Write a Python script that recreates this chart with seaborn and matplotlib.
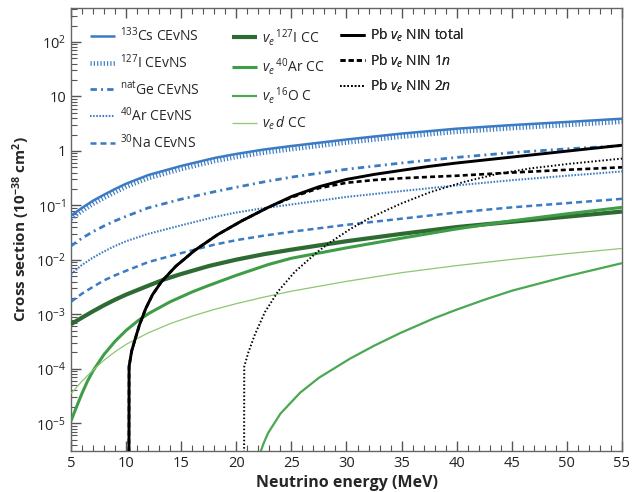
import math
import matplotlib
matplotlib.use("Agg")
import matplotlib.pyplot as plt
from matplotlib import ticker
import seaborn as sns
import pandas as pd

# energies (MeV) and cross sections (1e-38 cm^2)
e_cevns = [5, 6, 7, 8, 9, 10, 12, 15, 18, 20, 22.5, 25, 30, 35, 40, 45, 50, 55]
cs_cevns = [0.065, 0.09, 0.122, 0.157, 0.2, 0.25, 0.36, 0.53, 0.74, 0.88, 1.06, 1.23, 1.62, 2.08, 2.56, 2.98, 3.4, 3.9]
i_cevns = [0.057, 0.079, 0.107, 0.138, 0.176, 0.22, 0.317, 0.466, 0.65, 0.775, 0.93, 1.08, 1.43, 1.83, 2.25, 2.62, 3.0, 3.43]
ge_cevns = [0.018, 0.025, 0.033, 0.042, 0.052, 0.063, 0.09, 0.13, 0.178, 0.215, 0.27, 0.33, 0.46, 0.6, 0.76, 0.93, 1.09, 1.25]
ar_cevns = [0.0055, 0.0081, 0.011, 0.0143, 0.018, 0.022, 0.03, 0.043, 0.061, 0.074, 0.089, 0.104, 0.143, 0.183, 0.233, 0.29, 0.35, 0.42]
na_cevns = [0.0017, 0.0024, 0.0032, 0.0042, 0.0052, 0.0063, 0.0091, 0.0133, 0.019, 0.023, 0.0278, 0.0328, 0.044, 0.057, 0.074, 0.092, 0.11, 0.132]

e_icc = [5, 6, 7, 8, 9, 10, 12, 13.5, 15, 17.5, 20, 22.5, 25, 30, 35, 40, 45, 50, 55]
i_cc = [6.6e-4, 8.7e-4, 1.14e-3, 1.47e-3, 1.86e-3, 2.3e-3, 3.35e-3, 4.4e-3, 5.5e-3, 7.7e-3, 0.0101, 0.0127,
        0.0154, 0.022, 0.03, 0.04, 0.05, 0.062, 0.077]

e_arcc = [5, 5.5, 6, 6.5, 7, 8, 9, 10, 11.1, 12.1, 14, 16, 17.4, 20, 22.9, 25, 30, 35, 40, 45, 50, 55]
ar_cc = [1.1e-5, 2.0e-5, 3.55e-5, 5.96e-5, 9.2e-5, 1.84e-4, 3.2e-4, 5.07e-4, 7.7e-4, 1.05e-3, 1.7e-3, 2.58e-3,
         3.33e-3, 5.2e-3, 8.2e-3, 0.0107, 0.0166, 0.025, 0.037, 0.052, 0.07, 0.092]

e_dcc = [5, 6, 7, 8, 9, 10, 12, 14, 16, 18, 20, 22.5, 25, 30, 35, 40, 45, 50, 55]
d_cc = [3.5e-5, 5.94e-5, 9.5e-5, 1.44e-4, 2.06e-4, 2.81e-4, 4.56e-4, 6.75e-4, 9.3e-4, 1.23e-3, 1.57e-3, 2.07e-3,
        2.66e-3, 4.03e-3, 5.82e-3, 7.85e-3, 0.0102, 0.013, 0.0162]

e_occ = [22.15, 22.5, 22.9, 24, 25.8, 27.5, 30.3, 32.5, 34.9, 38, 40, 42.5, 45, 50, 55]
o_cc = [2.8e-6, 4.4e-6, 6.7e-6, 1.5e-5, 3.66e-5, 6.85e-5, 1.53e-4, 2.65e-4, 4.56e-4, 8.55e-4, 1.22e-3, 1.85e-3,
        2.71e-3, 5.0e-3, 8.7e-3]

e_pb = [10.25, 10.27, 10.5, 10.8, 11.2, 11.8, 12.4, 13.2, 14.5, 16.2, 18.3, 20.5, 22.9, 25, 27.5,
        30, 32.5, 35, 37.5, 40, 45, 50, 55]
pb_total = [1e-7, 1.1e-4, 2.1e-4, 3.4e-4, 6.3e-4, 1.3e-3, 2.3e-3, 3.95e-3, 7.6e-3, 0.0148, 0.029, 0.052, 0.092, 0.145,
            0.22, 0.30, 0.37, 0.44, 0.52, 0.6, 0.77, 0.99, 1.27]
pb_1n = [1e-7, 1.1e-4, 2.1e-4, 3.4e-4, 6.3e-4, 1.3e-3, 2.3e-3, 3.95e-3, 7.6e-3, 0.0148, 0.029, 0.052, 0.092, 0.14,
         0.207, 0.26, 0.292, 0.315, 0.333, 0.35, 0.40, 0.45, 0.50]

e_2n = [20.7, 20.72, 21.1, 21.7, 22.6, 23.8, 25.3, 27.3, 28.5, 30.3, 32.1, 34.9, 37.6, 40.6, 43.7, 46.7, 50.3, 55]
pb_2n = [1e-7, 1.1e-4, 2.02e-4, 4.33e-4, 1.1e-3, 2.66e-3, 6.0e-3, 0.0137, 0.0208, 0.0364, 0.0586, 0.107, 0.175,
         0.268, 0.378, 0.478, 0.582, 0.723]

y_ticks = [1e-5, 1e-4, 1e-3, 1e-2, 1e-1, 1, 10, 100]

blue = "#3b7bc3"
dgreen = "#2e6b33"
mgreen = "#3f9d47"
ogreen = "#4aa852"
lgreen = "#8ec672"

series = [
    # label, energies, values, color, lw, linestyle, zorder
    ("$^{127}$I CEvNS", e_cevns, i_cevns, blue, 3.4, (0, (0.25, 0.45)), 3),
    ("$^{133}$Cs CEvNS", e_cevns, cs_cevns, blue, 1.8, "-", 4),
    ("$^{\\mathrm{nat}}$Ge CEvNS", e_cevns, ge_cevns, blue, 2.0, (0, (2.3, 1.5, 0.7, 1.5)), 3),
    ("$^{40}$Ar CEvNS", e_cevns, ar_cevns, blue, 1.5, (0, (0.75, 0.75)), 3),
    ("$^{30}$Na CEvNS", e_cevns, na_cevns, blue, 1.8, (0, (2.4, 1.6)), 3),
    ("$v_e\\,^{127}$I CC", e_icc, i_cc, dgreen, 3.0, "-", 3),
    ("$v_e\\,^{40}$Ar CC", e_arcc, ar_cc, mgreen, 2.2, "-", 3),
    ("$v_e\\,^{16}$O C", e_occ, o_cc, ogreen, 1.6, "-", 3),
    ("$v_e\\,d$ CC", e_dcc, d_cc, lgreen, 0.9, "-", 3),
    ("Pb $v_e$ NIN 1$n$", e_pb, pb_1n, "black", 1.9, (0, (1.9, 1.2)), 4),
    ("Pb $v_e$ NIN total", e_pb, pb_total, "black", 2.1, "-", 5),
    ("Pb $v_e$ NIN 2$n$", e_2n, pb_2n, "black", 1.4, (0, (0.8, 1.1)), 4),
]

sns.set_style("ticks")
plt.rcParams['font.family'] = ['Open Sans', 'DejaVu Sans']
plt.rcParams['mathtext.fontset'] = 'custom'
plt.rcParams['mathtext.rm'] = 'Open Sans'
plt.rcParams['mathtext.it'] = 'Open Sans:italic'
plt.rcParams['mathtext.bf'] = 'Open Sans:bold'

fig = plt.figure(figsize=(6.36, 4.92), dpi=100)
ax = fig.add_axes([71 / 636, 1 - 451 / 492, 551 / 636, 443 / 492])

handles = {}
for label, e, v, c, lw, ls, z in series:
    df = pd.DataFrame({"E": e, "sigma": v})
    n0 = len(ax.lines)
    sns.lineplot(data=df, x="E", y="sigma", ax=ax, color=c, lw=lw, linestyle=ls,
                 estimator=None, sort=False, zorder=z, legend=False)
    line = ax.lines[n0]
    line.set_solid_capstyle("butt")
    line.set_dash_capstyle("butt")
    line.set_solid_joinstyle("round")
    handles[label] = line

ax.set_yscale("log")
ax.set_xlim(5, 55)
ax.set_ylim(3.1e-6, 420)

ax.xaxis.set_major_locator(ticker.MultipleLocator(5))
ax.xaxis.set_minor_locator(ticker.MultipleLocator(1))
ax.yaxis.set_major_locator(ticker.FixedLocator(y_ticks))
ax.yaxis.set_minor_locator(ticker.LogLocator(base=10, subs=range(2, 10), numticks=20))
ax.yaxis.set_minor_formatter(ticker.NullFormatter())


def yfmt(val, pos):
    p = int(round(math.log10(val)))
    if p == 0:
        return "1"
    if p == 1:
        return "10"
    return "10$^{%d}$" % p


ax.yaxis.set_major_formatter(ticker.FuncFormatter(yfmt))

ax.tick_params(axis="x", which="both", direction="in", top=True, bottom=True, colors="#555555",
               labelcolor="#222222", labelsize=10.5)
ax.tick_params(axis="y", which="both", direction="in", left=True, right=False, colors="#555555",
               labelcolor="#222222", labelsize=10.5)
ax.tick_params(which="major", length=7, width=1)
ax.tick_params(which="minor", length=4, width=0.8)
for s in ax.spines.values():
    s.set_color("#666666")
    s.set_linewidth(1.0)

ax.set_xlabel("Neutrino energy (MeV)", fontsize=11.5, fontweight="bold", labelpad=3)
ax.set_ylabel("Cross section (10$^{\\mathbf{-38}}$ cm$^{\\mathbf{2}}$)", fontsize=11, fontweight="bold", labelpad=3)

cols = [
    (["$^{133}$Cs CEvNS", "$^{127}$I CEvNS", "$^{\\mathrm{nat}}$Ge CEvNS", "$^{40}$Ar CEvNS", "$^{30}$Na CEvNS"], 0.034),
    (["$v_e\\,^{127}$I CC", "$v_e\\,^{40}$Ar CC", "$v_e\\,^{16}$O C", "$v_e\\,d$ CC"], 0.292),
    (["Pb $v_e$ NIN total", "Pb $v_e$ NIN 1$n$", "Pb $v_e$ NIN 2$n$"], 0.488),
]
for labels, xpos in cols:
    leg = ax.legend([handles[l] for l in labels], labels, loc="upper left",
                    bbox_to_anchor=(xpos, 0.958), frameon=False, borderpad=0,
                    borderaxespad=0, handlelength=1.8, handletextpad=0.35,
                    labelspacing=0.6, fontsize=10)
    ax.add_artist(leg)

fig.savefig("out.png", dpi=100)
